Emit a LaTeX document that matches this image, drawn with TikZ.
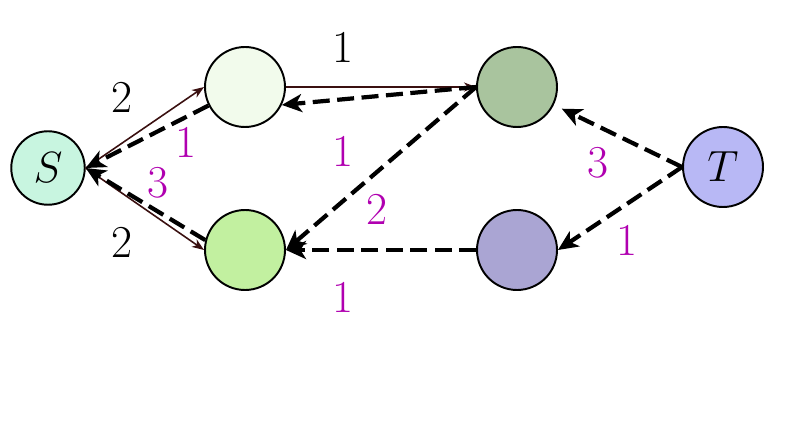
\documentclass[tikz,border=0pt]{standalone}
\usetikzlibrary{arrows.meta}
\definecolor{cS}{RGB}{200,245,224}
\definecolor{cA}{RGB}{242,251,236}
\definecolor{cB}{RGB}{169,196,158}
\definecolor{cC}{RGB}{194,240,160}
\definecolor{cD}{RGB}{170,165,211}
\definecolor{cT}{RGB}{184,184,245}
\definecolor{mag}{RGB}{176,0,176}
\definecolor{brn}{RGB}{58,16,16}
\begin{document}
\begin{tikzpicture}[x=0.02cm,y=-0.02cm,
  vert/.style={circle,draw=black,line width=1.1pt,minimum size=1.6cm,inner sep=0pt},
  flow/.style={draw=brn,line width=0.9pt,-{Stealth[length=0.24cm,width=0.18cm,inset=0.07cm]}},
  resid/.style={draw=black,line width=2.4pt,dash pattern=on 0.34cm off 0.15cm,-{Stealth[length=0.4cm,width=0.36cm,inset=0.11cm]}},
  capnum/.style={font=\fontsize{26}{30}\selectfont,text=black,inner sep=0pt},
  rcapnum/.style={font=\fontsize{26}{30}\selectfont,text=mag,inner sep=0pt},
  lbl/.style={font=\fontsize{32}{38}\selectfont}]
\useasboundingbox (0,0) rectangle (811,422);
\node[vert,fill=cS,minimum size=1.47cm,lbl] (S) at (48,168) {$S$};
\node[vert,fill=cA] (A) at (245,87) {};
\node[vert,fill=cB] (B) at (517,87) {};
\node[vert,fill=cC] (C) at (245,250) {};
\node[vert,fill=cD] (D) at (517,250) {};
\node[vert,fill=cT,lbl] (T) at (723,167) {$T$};
% flow edges
\draw[flow] (S.east) -- (A.west);
\draw[flow] (S.east) -- (C.west);
\draw[flow] (A.east) -- (B.west);
% residual edges
\draw[resid] (A) -- (S.east);
\draw[resid] (C.166) -- (S.east);
\draw[resid] (B.west) -- (A.-26);
\draw[resid] (B.west) -- (C.east);
\draw[resid] (D.west) -- (C.east);
\draw[resid,shorten >=5pt] (T.west) -- (B);
\draw[resid] (T.west) -- (D.east);
% labels
\node[capnum] (l1) at (343,47) {1};
\node[capnum] (l2) at (122,97) {2};
\node[capnum] (l3) at (122,242) {2};
\node[rcapnum] (r1) at (186,142) {1};
\node[rcapnum] (r2) at (158,183) {3};
\node[rcapnum] (r3) at (343,151) {1};
\node[rcapnum] (r4) at (377,209) {2};
\node[rcapnum] (r5) at (343,297) {1};
\node[rcapnum] (r6) at (598,163) {3};
\node[rcapnum] (r7) at (627,240) {1};
\end{tikzpicture}
\end{document}
